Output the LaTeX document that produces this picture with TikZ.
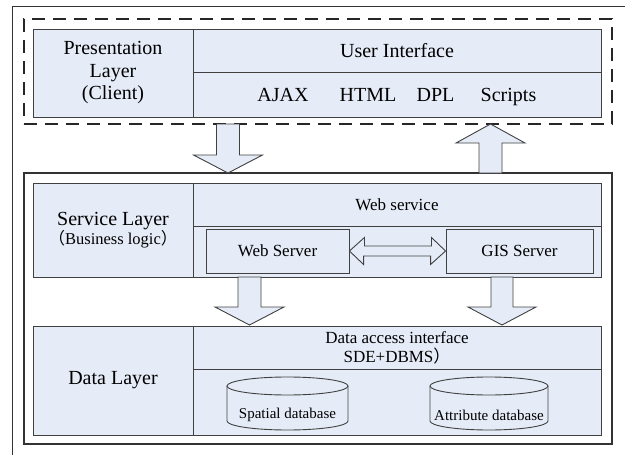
\documentclass[tikz,border=0pt]{standalone}
\usepackage{fontspec}
\setmainfont{Liberation Serif}
\newfontfamily\cjk{Noto Sans CJK SC}
\definecolor{cellblue}{RGB}{230,236,247}
\definecolor{linegray}{RGB}{64,64,64}
\begin{document}
\begin{tikzpicture}[x=1pt,y=-1pt,
    cell/.style={draw=linegray,fill=cellblue,line width=0.9pt,inner sep=0pt,align=center},
    big/.style={font=\fontsize{20}{22.5}\selectfont},
    mid/.style={font=\fontsize{17}{19}\selectfont},
    small/.style={font=\fontsize{15}{17}\selectfont},
    fatarrow/.style={draw=linegray,fill=cellblue,line width=0.9pt,line join=miter},
    drum/.style={draw=linegray,fill=cellblue,line width=0.9pt}]
    \useasboundingbox (0,0) rectangle (625,455);
    % outer frame
    \draw[line width=0.8pt,draw=black!80] (12,455) -- (12,6) -- (625,6);
    % client side
    \node[draw=black!85,line width=1.3pt,dash pattern=on 13pt off 8pt,minimum width=588pt,minimum height=105pt,inner sep=0pt] (client) at (318,71.5) {};
    \node[cell,big,minimum width=160pt,minimum height=88pt] (pres) at (113,73) {Presentation\\Layer\\(Client)};
    \node[cell,big,minimum width=408pt,minimum height=43pt] (ui) at (397,50.5) {User Interface};
    \node[cell,minimum width=408pt,minimum height=45pt] (tech) at (397,94.5) {};
    \node[big,anchor=base] (ajax) at (283,101.5) {AJAX};
    \node[big,anchor=base] (html) at (368,101.5) {HTML};
    \node[big,anchor=base] (dpl) at (435.5,101.5) {DPL};
    \node[big,anchor=base] (scripts) at (508.5,101.5) {Scripts};
    % server side
    \node[draw=linegray!80!black,line width=2pt,minimum width=588pt,minimum height=271pt,inner sep=0pt] (server) at (318,308.5) {};
    \node[cell,big,minimum width=160pt,minimum height=94pt] (svc) at (113,230) {Service Layer\\[-3pt]{\fontsize{16.5}{18}\selectfont\cjk （\rmfamily Business logic\cjk ）}};
    \node[cell,mid,minimum width=408pt,minimum height=43pt] (websvc) at (397,204.5) {Web service};
    \node[cell,minimum width=408pt,minimum height=51pt] (svcbody) at (397,251.5) {};
    \node[cell,mid,minimum width=143pt,minimum height=44pt] (websrv) at (277.5,251) {Web Server};
    \node[cell,mid,minimum width=147pt,minimum height=44pt] (gissrv) at (519.5,251) {GIS Server};
    \node[cell,big,minimum width=160pt,minimum height=109pt] (data) at (113,380.5) {Data Layer};
    \node[cell,mid,minimum width=408pt,minimum height=43pt] (dai) at (397,347.5) {Data access interface\\SDE+DBMS{\cjk ）}};
    \node[cell,minimum width=408pt,minimum height=66pt] (store) at (397,402) {};
    % databases
    \draw[drum] (227,386) -- (227,421) arc[start angle=180,end angle=360,x radius=60.5pt,y radius=9pt] -- (348,386);
    \draw[drum] (287.5,386) ellipse[x radius=60.5pt,y radius=9pt];
    \node[small] (spatial) at (287.5,415) {Spatial database};
    \draw[drum] (430,386) -- (430,421) arc[start angle=180,end angle=360,x radius=59pt,y radius=9pt] -- (548,386);
    \draw[drum] (489,386) ellipse[x radius=59pt,y radius=9pt];
    \node[small] (attrib) at (489,415) {Attribute database};
    % block arrows
    \draw[fatarrow] (216.5,124) -- (239.5,124) -- (239.5,155) -- (262.5,155) -- (228,173) -- (193.5,155) -- (216.5,155) -- cycle;
    \draw[fatarrow] (479,173) -- (479,143) -- (456,143) -- (490.5,124) -- (525,143) -- (502,143) -- (502,173) -- cycle;
    \draw[fatarrow] (238,277) -- (261,277) -- (261,307) -- (284,307) -- (249.5,325) -- (215,307) -- (238,307) -- cycle;
    \draw[fatarrow] (491,277) -- (513,277) -- (513,307) -- (536,307) -- (502,325) -- (468,307) -- (491,307) -- cycle;
    \draw[fatarrow] (websrv.east) -- ++(15,-13.5) -- ++(0,8.5) -- ++(67,0) -- ++(0,-8.5) -- (gissrv.west)
        -- ++(-15,13.5) -- ++(0,-8.5) -- ++(-67,0) -- ++(0,8.5) -- cycle;
\end{tikzpicture}
\end{document}
